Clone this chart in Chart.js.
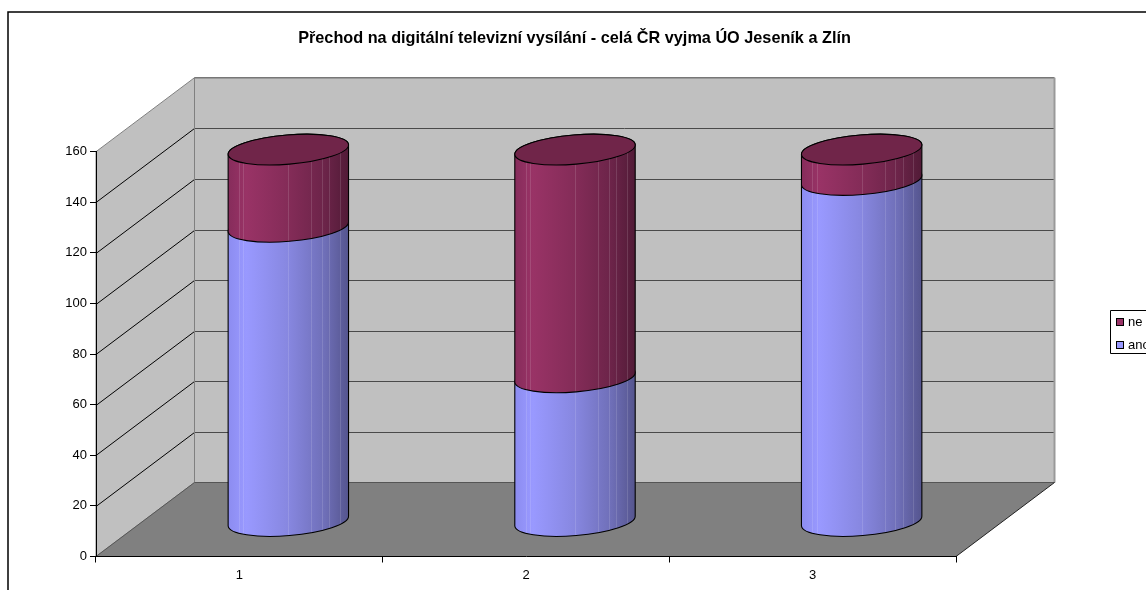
<!DOCTYPE html>
<html>
<head>
<meta charset="utf-8">
<style>html,body{margin:0;padding:0;background:#fff;overflow:hidden}canvas{display:block}</style>
<script src="https://cdn.jsdelivr.net/npm/chart.js@4"></script>
</head>
<body>
<canvas id="c" width="1146" height="590"></canvas>
<script>
const categories = ['1', '2', '3'];
const ano = [116.5, 57, 135];
const ne = [30.5, 90, 12];
const yTicks = [0, 20, 40, 60, 80, 100, 120, 140, 160];
const titleText = 'Přechod na digitální televizní vysílání - celá ČR vyjma ÚO Jeseník a Zlín';
const legendNames = ['ne', 'ano'];

const FONT = '"Liberation Sans", Arial, sans-serif';
const DEPTH_X = 98.5, DEPTH_Y = 74;
const CYL_DX = 49, CYL_DY = 35, CYL_RY = 14.6, CYL_TILT = -0.083;
const STRIPES = [.09, .125, .5, .69, .78, .84, .93];
const STYLES = {
  ano: {stops: ['#8c8cf0', '#9999ff', '#8787e0', '#6f6fb8', '#55558e'], top: '#7a7ac8'},
  ne: {stops: ['#862c5b', '#993366', '#842c58', '#6c2449', '#521b37'], top: '#702549'}
};

function drawWalls(chart) {
  const ctx = chart.ctx, y = chart.scales.y, a = chart.chartArea;
  const L = a.left, R = a.right, y0 = y.getPixelForValue(0), yMax = y.getPixelForValue(160);
  ctx.save();
  ctx.strokeStyle = '#000'; ctx.lineWidth = 1.5;
  ctx.beginPath(); ctx.moveTo(8, 590); ctx.lineTo(8, 12); ctx.lineTo(1146, 12); ctx.stroke();
  ctx.lineWidth = 1;
  ctx.fillStyle = '#c0c0c0'; ctx.strokeStyle = '#808080';
  ctx.beginPath(); ctx.moveTo(L, y0); ctx.lineTo(L, yMax); ctx.lineTo(L + DEPTH_X, yMax - DEPTH_Y); ctx.lineTo(L + DEPTH_X, y0 - DEPTH_Y); ctx.closePath(); ctx.fill(); ctx.stroke();
  ctx.fillRect(L + DEPTH_X, yMax - DEPTH_Y, R - L, y0 - yMax);
  yTicks.forEach(v => {
    if (v === 0 || v === 160) return;
    const p = Math.round(y.getPixelForValue(v)) + .5;
    ctx.strokeStyle = '#000';
    ctx.beginPath(); ctx.moveTo(L, p); ctx.lineTo(L + DEPTH_X, p - DEPTH_Y); ctx.stroke();
    ctx.strokeStyle = '#4a4a4a';
    ctx.beginPath(); ctx.moveTo(L + DEPTH_X, p - DEPTH_Y); ctx.lineTo(R + DEPTH_X, p - DEPTH_Y); ctx.stroke();
  });
  ctx.strokeStyle = '#777'; ctx.lineWidth = 1.5;
  ctx.beginPath(); ctx.moveTo(L + DEPTH_X, yMax - DEPTH_Y); ctx.lineTo(R + DEPTH_X, yMax - DEPTH_Y); ctx.stroke();
  ctx.lineWidth = 1; ctx.strokeStyle = '#808080';
  ctx.beginPath(); ctx.moveTo(L + DEPTH_X, yMax - DEPTH_Y); ctx.lineTo(L + DEPTH_X, y0 - DEPTH_Y); ctx.stroke();
  ctx.strokeStyle = '#999'; ctx.lineWidth = 2;
  ctx.beginPath(); ctx.moveTo(R + DEPTH_X, yMax - DEPTH_Y); ctx.lineTo(R + DEPTH_X, y0 - DEPTH_Y); ctx.stroke();
  ctx.fillStyle = '#808080';
  ctx.beginPath(); ctx.moveTo(L, y0); ctx.lineTo(R, y0); ctx.lineTo(R + DEPTH_X, y0 - DEPTH_Y); ctx.lineTo(L + DEPTH_X, y0 - DEPTH_Y); ctx.closePath(); ctx.fill();
  ctx.strokeStyle = '#555'; ctx.lineWidth = 1;
  ctx.beginPath(); ctx.moveTo(L, y0); ctx.lineTo(L + DEPTH_X, y0 - DEPTH_Y); ctx.lineTo(R + DEPTH_X, y0 - DEPTH_Y); ctx.stroke();
  ctx.strokeStyle = '#222';
  ctx.beginPath(); ctx.moveTo(R, y0); ctx.lineTo(R + DEPTH_X, y0 - DEPTH_Y); ctx.stroke();
  ctx.restore();
}

function drawSegment(ctx, el, style, withTop) {
  const {x, y, base, width} = el.getProps(['x', 'y', 'base', 'width'], true);
  const cx = x + CYL_DX, yt = y - CYL_DY, yb = base - CYL_DY;
  const rx = width / 2 / Math.cos(CYL_TILT), lx = cx - width / 2, rr = cx + width / 2;
  const g = ctx.createLinearGradient(lx, 0, rr, 0);
  style.stops.forEach((c, i) => g.addColorStop([0, .15, .5, .8, 1][i], c));
  const body = new Path2D();
  body.ellipse(cx, yb, rx, CYL_RY, CYL_TILT, Math.PI, 0, true);
  body.ellipse(cx, yt, rx, CYL_RY, CYL_TILT, 0, Math.PI, true);
  body.closePath();
  ctx.save();
  ctx.fillStyle = g; ctx.fill(body);
  ctx.save(); ctx.clip(body);
  ctx.strokeStyle = 'rgba(255,255,255,.13)'; ctx.lineWidth = 1;
  STRIPES.forEach(f => {
    const sx = Math.round(lx + f * width) + .5;
    ctx.beginPath(); ctx.moveTo(sx, yt - 20); ctx.lineTo(sx, yb + 20); ctx.stroke();
  });
  ctx.restore();
  ctx.strokeStyle = '#000'; ctx.lineWidth = 1.1;
  ctx.stroke(body);
  if (withTop) {
    const top = new Path2D();
    top.ellipse(cx, yt, rx, CYL_RY, CYL_TILT, 0, Math.PI * 2);
    ctx.fillStyle = style.top; ctx.fill(top); ctx.stroke(top);
  }
  ctx.restore();
}

function drawLegend(chart) {
  const ctx = chart.ctx;
  ctx.save();
  ctx.fillStyle = '#fff'; ctx.strokeStyle = '#000'; ctx.lineWidth = 1;
  ctx.beginPath(); ctx.rect(1110.5, 310.5, 40, 43); ctx.fill(); ctx.stroke();
  ctx.font = '13px ' + FONT; ctx.textBaseline = 'middle'; ctx.textAlign = 'left';
  legendNames.forEach((name, i) => {
    const top = 318 + i * 23;
    ctx.fillStyle = i === 0 ? '#993366' : '#9999ff';
    ctx.fillRect(1116.5, top + .5, 7, 7);
    ctx.strokeStyle = '#000'; ctx.strokeRect(1116.5, top + .5, 7, 7);
    ctx.fillStyle = '#000';
    ctx.fillText(name, 1128, top + 4);
  });
  ctx.restore();
}

const cylinder3d = {
  id: 'cylinder3d',
  beforeDraw: drawWalls,
  beforeDatasetDraw: () => false,
  afterDatasetsDraw(chart) {
    const ctx = chart.ctx;
    chart.getDatasetMeta(0).data.forEach(el => drawSegment(ctx, el, STYLES.ano, false));
    chart.getDatasetMeta(1).data.forEach(el => drawSegment(ctx, el, STYLES.ne, true));
    drawLegend(chart);
  }
};

new Chart(document.getElementById('c'), {
  type: 'bar',
  data: {
    labels: categories,
    datasets: [
      {label: 'ano', data: ano, backgroundColor: '#9999ff'},
      {label: 'ne', data: ne, backgroundColor: '#993366'}
    ]
  },
  plugins: [cylinder3d],
  options: {
    responsive: false,
    animation: false,
    barPercentage: 0.42,
    categoryPercentage: 1,
    layout: {padding: {left: 3, right: 0, top: 0, bottom: 0}},
    plugins: {
      legend: {display: false},
      tooltip: {enabled: false},
      title: {
        display: true, text: titleText, color: '#000',
        font: {family: FONT, size: 16.25, weight: 'bold', lineHeight: 1.2},
        padding: {top: 28.5, bottom: 103.7}
      }
    },
    scales: {
      x: {
        stacked: true,
        afterFit: s => { s.height = 33.5; },
        grid: {drawOnChartArea: false, drawTicks: true, tickLength: 6, color: '#000', offset: true},
        border: {display: true, color: '#000', width: 1},
        ticks: {color: '#000', font: {family: FONT, size: 13}, padding: 5, maxRotation: 0}
      },
      y: {
        stacked: true, min: 0, max: 160,
        afterFit: s => { s.width = 93; },
        grid: {drawOnChartArea: false, drawTicks: true, tickLength: 6, color: '#000'},
        border: {display: true, color: '#000', width: 1},
        ticks: {stepSize: 20, color: '#000', font: {family: FONT, size: 13}, padding: 3}
      },
      y2: {
        type: 'linear', position: 'right', display: true,
        afterFit: s => { s.width = 190; },
        grid: {display: false}, border: {display: false}, ticks: {display: false}
      }
    }
  }
});
</script>
</body>
</html>
